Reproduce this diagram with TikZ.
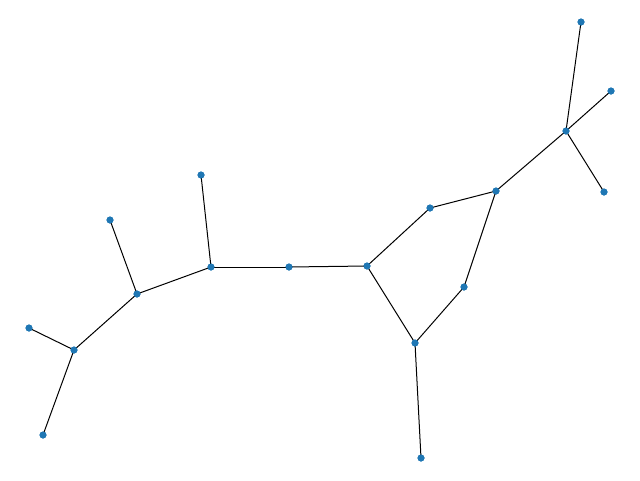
\documentclass[tikz,border=0pt]{standalone}
\definecolor{nodeblue}{HTML}{1F77B4}
\begin{document}
\begin{tikzpicture}[x=1pt,y=-1pt,
  vtx/.style={circle,fill=nodeblue,inner sep=0pt,minimum size=7pt},
  edge/.style={draw=black,line width=1pt}]
\useasboundingbox (0,0) rectangle (640,480);
\node[vtx] (A) at (581,22) {};
\node[vtx] (B) at (611,91) {};
\node[vtx] (C) at (566,131) {};
\node[vtx] (D) at (604,192) {};
\node[vtx] (E) at (496,191) {};
\node[vtx] (F) at (430,208) {};
\node[vtx] (G) at (464,287) {};
\node[vtx] (H) at (367,266) {};
\node[vtx] (I) at (415,343) {};
\node[vtx] (J) at (421,458) {};
\node[vtx] (K) at (289,267) {};
\node[vtx] (L) at (211,267) {};
\node[vtx] (M) at (201,175) {};
\node[vtx] (N) at (137,294) {};
\node[vtx] (O) at (110,220) {};
\node[vtx] (P) at (74,350) {};
\node[vtx] (Q) at (29,328) {};
\node[vtx] (R) at (43,435) {};
\begin{scope}[on background layer/.try]
\end{scope}
\foreach \a/\b in {A/C,B/C,C/D,C/E,E/F,E/G,F/H,G/I,H/I,I/J,H/K,K/L,L/M,L/N,N/O,N/P,P/Q,P/R}
  \draw[edge] (\a.center) -- (\b.center);
\foreach \n/\x/\y in {A/581/22,B/611/91,C/566/131,D/604/192,E/496/191,F/430/208,G/464/287,H/367/266,I/415/343,J/421/458,K/289/267,L/211/267,M/201/175,N/137/294,O/110/220,P/74/350,Q/29/328,R/43/435}
  \fill[nodeblue] (\x,\y) circle (3.5pt);
\end{tikzpicture}
\end{document}
